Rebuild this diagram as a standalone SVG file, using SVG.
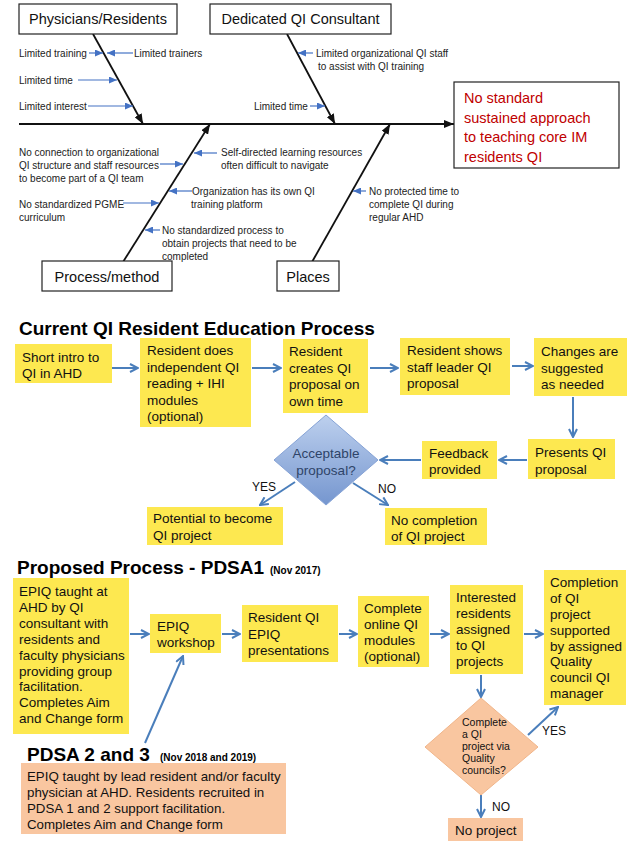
<svg xmlns="http://www.w3.org/2000/svg" width="633" height="850" viewBox="0 0 633 850">
<defs>
<style>
.bx{fill:#fff;stroke:#222;stroke-width:1.2}
.hd{font-family:"Liberation Sans",Arial,sans-serif;font-size:14.5px;fill:#111}
.cs{font-family:"Liberation Sans",Arial,sans-serif;font-size:10px;fill:#222}
.ef{font-family:"Liberation Sans",Arial,sans-serif;font-size:14.5px;fill:#c00000}
.bone{stroke:#111;stroke-width:1.8;fill:none}
.sa{stroke:#4472c4;stroke-width:1.2;fill:none}
.y{fill:#fde850}
.o{fill:#f9c6a0}
.t{font-family:"Liberation Sans",Arial,sans-serif;font-size:13.5px;fill:#111}
.pt{font-family:"Liberation Sans",Arial,sans-serif;font-size:13.3px;fill:#111}
.dt{font-family:"Liberation Sans",Arial,sans-serif;font-size:10.5px;fill:#111}
.lb{font-family:"Liberation Sans",Arial,sans-serif;font-size:12px;fill:#111}
.h1{font-family:"Liberation Sans",Arial,sans-serif;font-size:19px;font-weight:bold;fill:#000}
.h2{font-family:"Liberation Sans",Arial,sans-serif;font-size:10px;font-weight:bold;fill:#000}
.fa{stroke:#4a7ebb;stroke-width:2;fill:none}
</style>
<marker id="ak" viewBox="0 0 10 8" refX="10" refY="4" markerWidth="10" markerHeight="8" markerUnits="userSpaceOnUse" orient="auto"><path d="M0,0 L10,4 L0,8 z" fill="#111"/></marker>
<marker id="ab" viewBox="0 0 8 7" refX="8" refY="3.5" markerWidth="8" markerHeight="7" markerUnits="userSpaceOnUse" orient="auto"><path d="M0,0 L8,3.5 L0,7 z" fill="#4472c4"/></marker>
<marker id="af" viewBox="0 0 10 10" refX="9" refY="5" markerWidth="10" markerHeight="10" markerUnits="userSpaceOnUse" orient="auto"><path d="M1,1 L9,5 L1,9" fill="none" stroke="#4a7ebb" stroke-width="2"/></marker>
<linearGradient id="gb" x1="0" y1="0" x2="0" y2="1"><stop offset="0" stop-color="#bdd0ee"/><stop offset="1" stop-color="#7596cf"/></linearGradient>
</defs>

<g id="connectors">
<line class="bone" x1="19" y1="124" x2="454" y2="124" marker-end="url(#ak)"/>
<line class="bone" x1="93" y1="34" x2="143" y2="124" marker-end="url(#ak)"/>
<line class="bone" x1="287" y1="34" x2="335" y2="124" marker-end="url(#ak)"/>
<line class="bone" x1="123" y1="262" x2="210" y2="124" marker-end="url(#ak)"/>
<line class="bone" x1="312" y1="262" x2="390" y2="124" marker-end="url(#ak)"/>
<line class="sa" x1="89" y1="53" x2="103" y2="53" marker-end="url(#ab)"/>
<line class="sa" x1="133" y1="53" x2="107" y2="53" marker-end="url(#ab)"/>
<line class="sa" x1="78" y1="80" x2="117" y2="80" marker-end="url(#ab)"/>
<line class="sa" x1="88" y1="106" x2="133" y2="106" marker-end="url(#ab)"/>
<line class="sa" x1="313" y1="53" x2="298" y2="53" marker-end="url(#ab)"/>
<line class="sa" x1="310" y1="106" x2="325" y2="106" marker-end="url(#ab)"/>
<line class="sa" x1="160" y1="164" x2="183" y2="164" marker-end="url(#ab)"/>
<line class="sa" x1="217" y1="153" x2="194" y2="153" marker-end="url(#ab)"/>
<line class="sa" x1="192" y1="191" x2="169" y2="191" marker-end="url(#ab)"/>
<line class="sa" x1="123" y1="203" x2="159" y2="203" marker-end="url(#ab)"/>
<line class="sa" x1="160" y1="230" x2="145" y2="230" marker-end="url(#ab)"/>
<line class="sa" x1="366" y1="191" x2="353" y2="191" marker-end="url(#ab)"/>

<line class="fa" x1="112" y1="368" x2="138" y2="368" marker-end="url(#af)"/>
<line class="fa" x1="252" y1="368" x2="281" y2="368" marker-end="url(#af)"/>
<line class="fa" x1="370" y1="368" x2="398" y2="368" marker-end="url(#af)"/>
<line class="fa" x1="512" y1="366" x2="533" y2="366" marker-end="url(#af)"/>
<line class="fa" x1="573" y1="397" x2="573" y2="437" marker-end="url(#af)"/>
<line class="fa" x1="527" y1="460" x2="499" y2="460" marker-end="url(#af)"/>
<line class="fa" x1="421" y1="460" x2="380" y2="460" marker-end="url(#af)"/>
<line class="fa" x1="295" y1="482" x2="260" y2="505" marker-end="url(#af)"/>
<line class="fa" x1="353" y1="483" x2="388" y2="505" marker-end="url(#af)"/>

<line class="fa" x1="130" y1="634" x2="149" y2="634" marker-end="url(#af)"/>
<line class="fa" x1="222" y1="634" x2="240" y2="634" marker-end="url(#af)"/>
<line class="fa" x1="339" y1="634" x2="357" y2="634" marker-end="url(#af)"/>
<line class="fa" x1="430" y1="634" x2="449" y2="634" marker-end="url(#af)"/>
<line class="fa" x1="524" y1="634" x2="543" y2="634" marker-end="url(#af)"/>
<line class="fa" x1="481" y1="675" x2="481" y2="697" marker-end="url(#af)"/>
<line class="fa" x1="528" y1="735" x2="558" y2="707" marker-end="url(#af)"/>
<line class="fa" x1="481" y1="795" x2="481" y2="817" marker-end="url(#af)"/>
<line class="fa" x1="145" y1="743" x2="183" y2="656" marker-end="url(#af)"/>
</g>

<g id="fishbone-labels">
<text class="cs" x="19" y="56.5">Limited training</text>
<text class="cs" x="134" y="56.5">Limited trainers</text>
<text class="cs" x="19" y="83.5">Limited time</text>
<text class="cs" x="19" y="109.5">Limited interest</text>
<text class="cs" x="316" y="56.5">Limited organizational QI staff</text>
<text class="cs" x="318" y="69.5">to assist with QI training</text>
<text class="cs" x="254" y="109.5">Limited time</text>
<text class="cs" x="19" y="155.5">No connection to organizational</text>
<text class="cs" x="19" y="168.5">QI structure and staff resources</text>
<text class="cs" x="19" y="181.5">to become part of a QI team</text>
<text class="cs" x="221" y="155.5">Self-directed learning resources</text>
<text class="cs" x="221" y="168.5">often difficult to navigate</text>
<text class="cs" x="192" y="194.5">Organization has its own QI</text>
<text class="cs" x="191" y="207.5">training platform</text>
<text class="cs" x="19" y="207.5">No standardized PGME</text>
<text class="cs" x="19" y="220.5">curriculum</text>
<text class="cs" x="162" y="233.5">No standardized process to</text>
<text class="cs" x="162" y="246.5">obtain projects that need to be</text>
<text class="cs" x="162" y="259.5">completed</text>
<text class="cs" x="369" y="194.5">No protected time to</text>
<text class="cs" x="369" y="207.5">complete QI during</text>
<text class="cs" x="369" y="220.5">regular AHD</text>
</g>

<g id="cat-physicians"><rect class="bx" x="19" y="4" width="158" height="30"/><text class="hd" x="98" y="24" text-anchor="middle">Physicians/Residents</text></g>
<g id="cat-consultant"><rect class="bx" x="210" y="4" width="181" height="30"/><text class="hd" x="300.5" y="24" text-anchor="middle">Dedicated QI Consultant</text></g>
<g id="cat-process"><rect class="bx" x="42" y="261" width="130" height="30"/><text class="hd" x="107" y="282" text-anchor="middle">Process/method</text></g>
<g id="cat-places"><rect class="bx" x="277" y="261" width="62" height="30"/><text class="hd" x="308" y="282" text-anchor="middle">Places</text></g>
<g id="effect"><rect class="bx" x="454" y="82" width="165" height="86"/>
<text class="ef" x="464" y="103">No standard</text>
<text class="ef" x="464" y="122.5">sustained approach</text>
<text class="ef" x="464" y="142">to teaching core IM</text>
<text class="ef" x="464" y="161.5">residents QI</text></g>

<text class="h1" x="19" y="335">Current QI Resident Education Process</text>

<g id="c1"><rect class="y" x="15" y="344" width="97" height="39"/><text class="t" x="22" y="362">Short intro to</text><text class="t" x="22" y="378">QI in AHD</text></g>
<g id="c2"><rect class="y" x="140" y="338" width="111" height="89"/><text class="t" x="147" y="355">Resident does</text><text class="t" x="147" y="371.5">independent QI</text><text class="t" x="147" y="388">reading + IHI</text><text class="t" x="147" y="404.5">modules</text><text class="t" x="147" y="421">(optional)</text></g>
<g id="c3"><rect class="y" x="283" y="339" width="85" height="74"/><text class="t" x="289" y="356">Resident</text><text class="t" x="289" y="372.5">creates QI</text><text class="t" x="289" y="389">proposal on</text><text class="t" x="289" y="405.5">own time</text></g>
<g id="c4"><rect class="y" x="400" y="338" width="110" height="57"/><text class="t" x="407" y="355">Resident shows</text><text class="t" x="407" y="371.5">staff leader QI</text><text class="t" x="407" y="388">proposal</text></g>
<g id="c5"><rect class="y" x="534" y="338" width="93" height="58"/><text class="t" x="541" y="356">Changes are</text><text class="t" x="541" y="372.5">suggested</text><text class="t" x="541" y="389">as needed</text></g>
<g id="c6"><rect class="y" x="528" y="439" width="87" height="40"/><text class="t" x="535" y="457">Presents QI</text><text class="t" x="535" y="473.5">proposal</text></g>
<g id="c7"><rect class="y" x="422" y="441" width="75" height="38"/><text class="t" x="429" y="458">Feedback</text><text class="t" x="429" y="474">provided</text></g>
<g id="c8"><polygon points="326,415 378,460 326,505 274,460" fill="url(#gb)" stroke="#86a3d6" stroke-width="1"/><text class="t" x="326" y="458" text-anchor="middle" style="fill:#2e4468">Acceptable</text><text class="t" x="326" y="475" text-anchor="middle" style="fill:#2e4468">proposal?</text></g>
<text class="lb" x="252" y="491">YES</text>
<text class="lb" x="378" y="493">NO</text>
<g id="c9"><rect class="y" x="147" y="507" width="136" height="38"/><text class="t" x="153" y="523">Potential to become</text><text class="t" x="153" y="540">QI project</text></g>
<g id="c10"><rect class="y" x="385" y="508" width="102" height="37"/><text class="t" x="391" y="524.5">No completion</text><text class="t" x="391" y="541">of QI project</text></g>

<text class="h1" x="17" y="574">Proposed Process - PDSA1</text>
<text class="h2" x="270" y="574">(Nov 2017)</text>

<g id="p1"><rect class="y" x="13" y="578" width="116" height="156"/>
<text class="t" x="19" y="596">EPIQ taught at</text><text class="t" x="19" y="612">AHD by QI</text><text class="t" x="19" y="628">consultant with</text><text class="t" x="19" y="643.5">residents and</text><text class="t" x="19" y="659.5">faculty physicians</text><text class="t" x="19" y="675.5">providing group</text><text class="t" x="19" y="691">facilitation.</text><text class="t" x="19" y="707">Completes Aim</text><text class="t" x="19" y="723">and Change form</text></g>
<g id="p2"><rect class="y" x="150" y="614" width="71" height="39"/><text class="t" x="157" y="631">EPIQ</text><text class="t" x="157" y="647">workshop</text></g>
<g id="p3"><rect class="y" x="242" y="605" width="96" height="57"/><text class="t" x="248" y="622">Resident QI</text><text class="t" x="248" y="638.5">EPIQ</text><text class="t" x="248" y="655">presentations</text></g>
<g id="p4"><rect class="y" x="358" y="596" width="71" height="71"/><text class="t" x="364" y="613">Complete</text><text class="t" x="364" y="629">online QI</text><text class="t" x="364" y="645">modules</text><text class="t" x="364" y="661">(optional)</text></g>
<g id="p5"><rect class="y" x="450" y="585" width="73" height="89"/><text class="t" x="456" y="602">Interested</text><text class="t" x="456" y="618">residents</text><text class="t" x="456" y="634">assigned</text><text class="t" x="456" y="650">to QI</text><text class="t" x="456" y="666">projects</text></g>
<g id="p6"><rect class="y" x="544" y="570" width="82" height="135"/><text class="t" x="550" y="587">Completion</text><text class="t" x="550" y="603">of QI</text><text class="t" x="550" y="619">project</text><text class="t" x="550" y="634.5">supported</text><text class="t" x="550" y="650.5">by assigned</text><text class="t" x="550" y="666">Quality</text><text class="t" x="550" y="682">council QI</text><text class="t" x="550" y="698">manager</text></g>
<g id="p7"><polygon class="o" points="481,698 538,747 481,795 425,747" stroke="#f0b58a" stroke-width="1"/>
<text class="dt" x="462" y="726">Complete</text><text class="dt" x="462" y="738">a QI</text><text class="dt" x="462" y="750">project via</text><text class="dt" x="462" y="762">Quality</text><text class="dt" x="462" y="774">councils?</text></g>
<text class="lb" x="542" y="735">YES</text>
<text class="lb" x="492" y="811">NO</text>
<g id="p8"><rect class="o" x="448" y="818" width="75" height="23"/><text class="t" x="455" y="835">No project</text></g>

<text class="h1" x="27" y="761">PDSA 2 and 3</text>
<text class="h2" x="160" y="761">(Nov 2018 and 2019)</text>
<g id="p9"><rect class="o" x="21" y="763" width="265" height="71"/>
<text class="pt" x="27" y="781">EPIQ taught by lead resident and/or faculty</text>
<text class="pt" x="27" y="797">physician at AHD. Residents recruited in</text>
<text class="pt" x="27" y="813">PDSA 1 and 2 support facilitation.</text>
<text class="pt" x="27" y="829">Completes Aim and Change form</text></g>
</svg>
